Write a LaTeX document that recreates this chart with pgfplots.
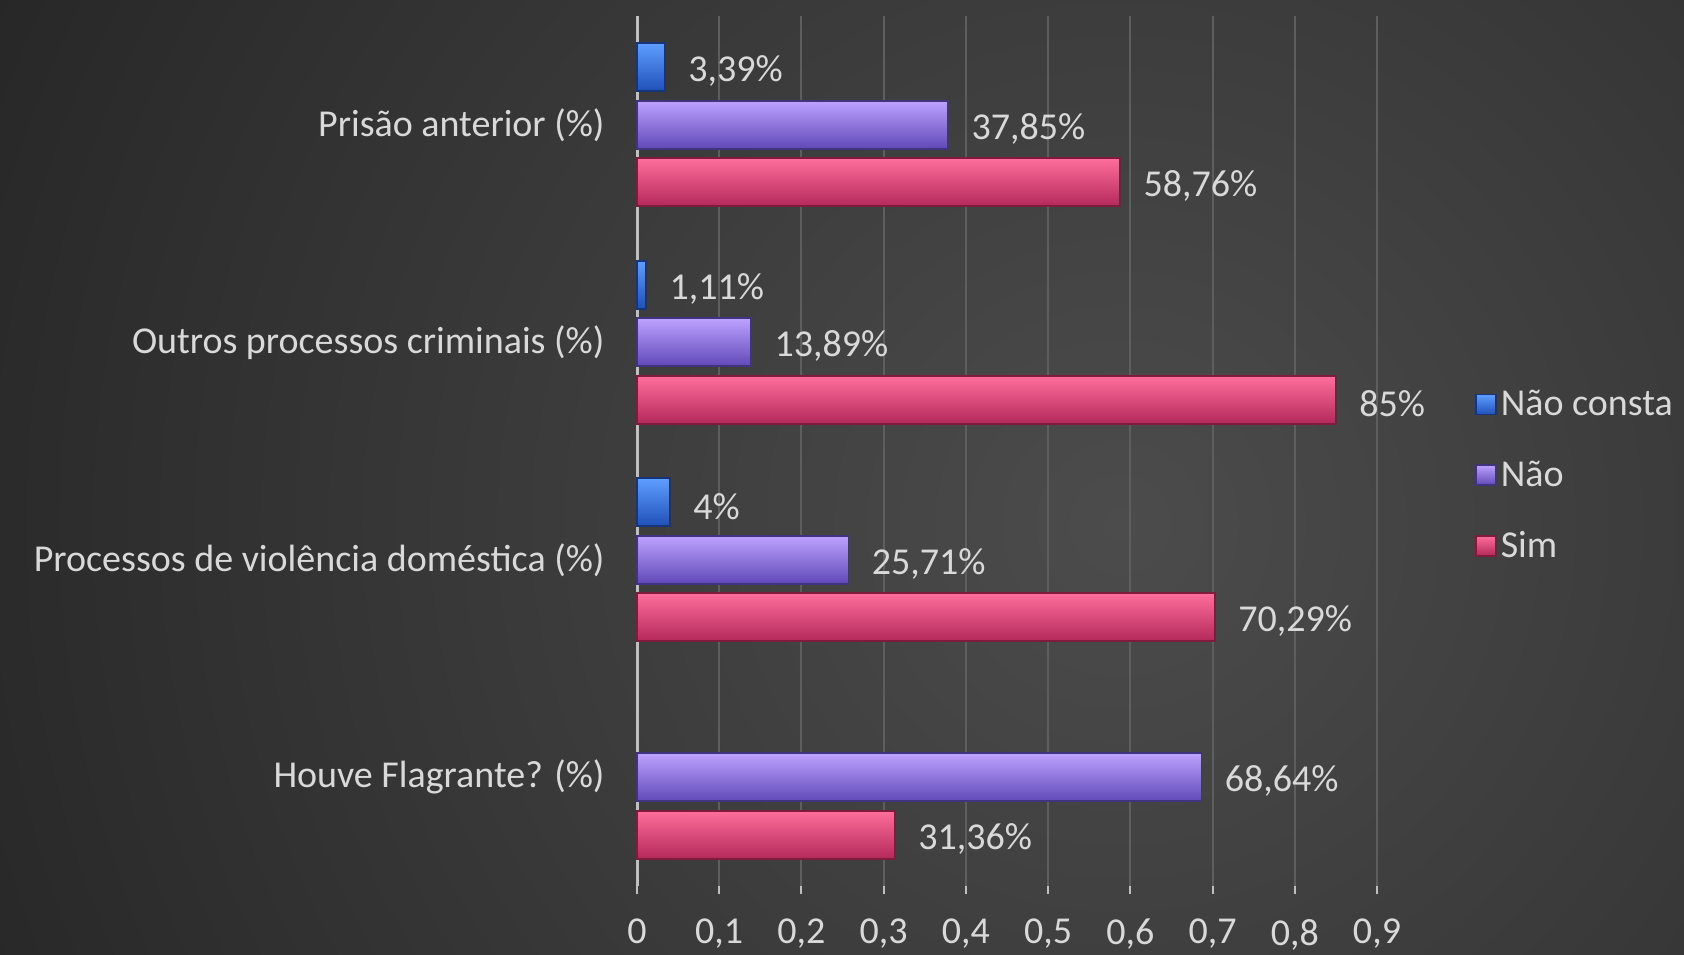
\documentclass[border=0pt]{standalone}
\usepackage{fontspec}
\setmainfont{Carlito}
\usepackage{pgfplots}
\pgfplotsset{compat=1.18}

\definecolor{bgin}{HTML}{4C4C4C}
\definecolor{bgout}{HTML}{262626}
\definecolor{txt}{HTML}{D9D9D9}
\definecolor{gridc}{HTML}{5E5E5E}
\definecolor{axisc}{HTML}{BFBFBF}
\definecolor{pinkT}{HTML}{FF6E9C}
\definecolor{pinkM}{HTML}{DC3066}
\definecolor{pinkB}{HTML}{B3295A}
\definecolor{pinkE}{HTML}{7E1C3E}
\definecolor{purT}{HTML}{BDA2FF}
\definecolor{purM}{HTML}{7B5BE2}
\definecolor{purB}{HTML}{6049B8}
\definecolor{purE}{HTML}{40347F}
\definecolor{bluT}{HTML}{5E9EFF}
\definecolor{bluM}{HTML}{2C68DC}
\definecolor{bluB}{HTML}{2050B8}
\definecolor{bluE}{HTML}{17357A}

\newcommand{\fs}{\fontsize{19}{22}\selectfont}

% one \addplot per bar, so that each bar gets its own shading
\pgfplotsset{
    simbar/.style={bar shift=-28.75pt, draw=pinkE, line width=0.8pt,
        top color=pinkT, middle color=pinkM, bottom color=pinkB},
    naobar/.style={bar shift=0pt, draw=purE, line width=0.8pt,
        top color=purT, middle color=purM, bottom color=purB},
    ncbar/.style={bar shift=28.75pt, draw=bluE, line width=0.8pt,
        top color=bluT, middle color=bluM, bottom color=bluB},
}

\begin{document}
\begin{tikzpicture}
% background, 1 px of the reference = 0.5pt
\begin{scope}
\clip (0,0) rectangle (842pt,477pt);
\fill[bgout] (0,0) rectangle (842pt,477pt);
\shade[inner color=bgin, outer color=bgout] (560pt,215pt) circle (640pt);
\end{scope}

\begin{axis}[
    at={(318.5pt,34pt)}, anchor=south west,
    scale only axis, width=370pt, height=435pt,
    xbar, bar width=24pt,
    xmin=0, xmax=0.9, ymin=-0.5, ymax=3.5,
    clip=false,
    axis lines=left,
    axis line style={-},
    x axis line style={draw=none},
    y axis line style={axisc, line width=1.5pt},
    xmajorgrids,
    major grid style={gridc, line width=1pt},
    tick align=outside,
    major tick length=4pt,
    xtick style={axisc, line width=1pt},
    ytick style={draw=none},
    xtick={0,0.1,0.2,0.3,0.4,0.5,0.6,0.7,0.8,0.9},
    /pgf/number format/assume math mode=true,
    /pgf/number format/use comma,
    xticklabel style={text=txt, font=\fs, yshift=-9pt},
    ytick={0,1,2,3},
    yticklabels={Houve Flagrante? (\%), Processos de violência doméstica (\%), Outros processos criminais (\%), Prisão anterior (\%)},
    yticklabel style={text=txt, font=\fs, xshift=-8.7pt},
    point meta={x*100},
    nodes near coords={\pgfmathprintnumber[use comma,fixed,precision=2]{\pgfplotspointmeta}\%},
    nodes near coords style={text=txt, font=\fs, anchor=west, xshift=8pt, yshift=-2pt},
    reverse legend,
    legend cell align=left,
    legend style={at={(1.124,0.472)}, anchor=west, draw=none, fill=none,
        text=txt, font=\fs, row sep=17pt},
    legend image code/.code={\draw[#1] (0pt,-5pt) rectangle (10pt,5pt);},
]
% Sim
\addplot[simbar] coordinates {(0.3136,0)};
\addlegendentry{Sim}
\addplot[simbar, forget plot] coordinates {(0.7029,1)};
\addplot[simbar, forget plot] coordinates {(0.85,2)};
\addplot[simbar, forget plot] coordinates {(0.5876,3)};
% Nao
\addplot[naobar] coordinates {(0.6864,0)};
\addlegendentry{Não}
\addplot[naobar, forget plot] coordinates {(0.2571,1)};
\addplot[naobar, forget plot] coordinates {(0.1389,2)};
\addplot[naobar, forget plot] coordinates {(0.3785,3)};
% Nao consta
\addplot[ncbar] coordinates {(0.04,1)};
\addlegendentry{Não consta}
\addplot[ncbar, forget plot] coordinates {(0.0111,2)};
\addplot[ncbar, forget plot] coordinates {(0.0339,3)};
\end{axis}
\pgfresetboundingbox
\useasboundingbox (0,0) rectangle (842pt,477pt);
\end{tikzpicture}
\end{document}
